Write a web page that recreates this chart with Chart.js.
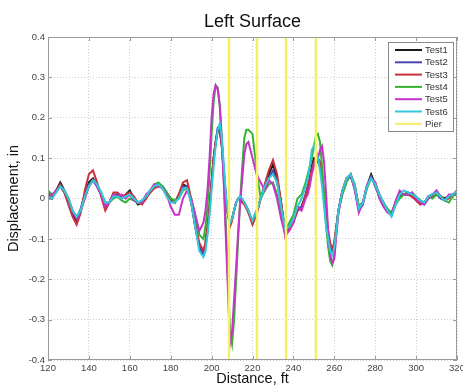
<!DOCTYPE html>
<html>
<head>
<meta charset="utf-8">
<title>Left Surface</title>
<script src="https://cdn.jsdelivr.net/npm/chart.js@4/dist/chart.umd.min.js"></script>
<style>
  html, body { margin: 0; padding: 0; background: #fff; }
  canvas { display: block; }
</style>
</head>
<body>
<canvas id="chart" width="463" height="389"></canvas>
<script>
// distance along the bridge, ft (finer spacing where the curves move fast)
const distance = [
  120,122,124,126,128,130,132,134,136,138,140,142,144,146,148,150,152,154,156,158,
  160,162,164,166,168,170,172,174,176,178,180,182,184,186,188,190,192,194,
  196,197,198,199,200,201,202,203,204,205,206,207,208,209,210,211,212,213,214,215,216,217,218,
  220,222,224,226,228,230,232,234,236,238,240,242,244,246,
  247,248,249,250,251,252,253,254,255,256,257,258,259,260,261,262,
  264,266,268,270,272,274,276,278,280,282,284,286,288,290,292,294,296,298,300,302,304,306,308,310,312,314,316,318,320
];

// displacement, in
const test1 = [
  0.01,0.0,0.02,0.04,0.02,-0.01,-0.04,-0.055,-0.03,0.01,0.04,0.05,0.03,0.01,-0.02,-0.01,0.01,0.01,0.0,0.01,
  0.02,0.0,-0.015,-0.01,0.005,0.015,0.03,0.035,0.03,0.015,0.0,-0.01,0.01,0.035,0.03,-0.01,-0.07,-0.12,
  -0.135,-0.11,-0.07,-0.02,0.04,0.1,0.14,0.17,0.17,0.13,0.06,0.0,-0.04,-0.065,-0.05,-0.03,-0.01,0.0,0.0,-0.005,-0.01,-0.02,-0.03,
  -0.06,-0.035,0.0,0.03,0.06,0.085,0.05,-0.01,-0.08,-0.07,-0.055,-0.03,-0.02,0.01,
  0.03,0.05,0.08,0.1,0.1,0.09,0.08,0.05,0.0,-0.05,-0.09,-0.12,-0.13,-0.11,-0.07,-0.03,
  0.02,0.05,0.055,0.03,-0.02,-0.01,0.03,0.06,0.035,0.01,-0.01,-0.03,-0.04,-0.01,0.01,0.01,0.015,0.01,0.0,-0.005,-0.01,0.005,0.01,0.015,0.005,0.0,0.005,0.01,0.015
];
const test2 = [
  0.0,0.005,0.02,0.03,0.015,-0.01,-0.035,-0.05,-0.025,0.01,0.035,0.045,0.03,0.01,-0.02,-0.01,0.005,0.01,0.005,0.005,
  0.015,0.0,-0.01,-0.01,0.0,0.02,0.03,0.035,0.025,0.01,-0.005,-0.01,0.005,0.03,0.03,-0.005,-0.065,-0.12,
  -0.14,-0.12,-0.08,-0.025,0.04,0.1,0.14,0.175,0.18,0.14,0.07,0.0,-0.04,-0.06,-0.05,-0.03,-0.01,0.0,0.005,-0.005,-0.01,-0.02,-0.035,
  -0.055,-0.03,0.0,0.025,0.05,0.07,0.04,-0.015,-0.085,-0.07,-0.05,-0.025,-0.02,0.005,
  0.02,0.04,0.07,0.09,0.1,0.1,0.09,0.06,0.01,-0.05,-0.09,-0.12,-0.135,-0.12,-0.08,-0.03,
  0.02,0.045,0.055,0.025,-0.03,-0.015,0.03,0.055,0.03,0.005,-0.015,-0.03,-0.04,-0.015,0.005,0.01,0.01,0.005,0.0,-0.01,-0.015,0.0,0.01,0.01,0.0,-0.005,0.005,0.01,0.01
];
const test3 = [
  0.015,0.005,0.02,0.035,0.015,-0.015,-0.045,-0.065,-0.035,0.02,0.06,0.07,0.04,0.005,-0.03,-0.01,0.015,0.015,0.005,0.01,
  0.015,0.005,-0.01,-0.015,0.0,0.015,0.025,0.03,0.03,0.015,-0.005,-0.01,0.01,0.04,0.045,0.0,-0.06,-0.11,
  -0.13,-0.11,-0.07,-0.02,0.04,0.1,0.14,0.165,0.165,0.13,0.06,0.0,-0.04,-0.07,-0.055,-0.03,-0.01,0.0,0.0,-0.01,-0.015,-0.025,-0.035,
  -0.065,-0.04,0.0,0.035,0.07,0.095,0.06,-0.01,-0.095,-0.075,-0.06,-0.03,-0.025,0.01,
  0.03,0.05,0.07,0.09,0.1,0.1,0.09,0.06,0.01,-0.04,-0.08,-0.11,-0.125,-0.11,-0.07,-0.03,
  0.02,0.05,0.06,0.03,-0.02,-0.01,0.03,0.05,0.04,0.01,-0.015,-0.03,-0.035,-0.01,0.015,0.01,0.01,0.005,-0.005,-0.015,-0.01,0.005,0.005,0.015,0.005,-0.005,0.0,0.01,0.01
];
const test4 = [
  0.02,0.01,0.015,0.03,0.02,0.0,-0.03,-0.045,-0.03,0.0,0.03,0.045,0.035,0.015,-0.01,-0.01,0.0,0.005,-0.005,-0.01,
  0.0,-0.005,-0.01,-0.005,0.005,0.02,0.035,0.04,0.03,0.015,0.0,-0.005,0.0,0.02,0.025,0.0,-0.04,-0.09,
  -0.1,-0.07,-0.02,0.06,0.16,0.24,0.28,0.275,0.23,0.15,0.05,-0.07,-0.2,-0.33,-0.36,-0.3,-0.2,-0.1,0.0,0.08,0.15,0.17,0.17,
  0.16,0.07,0.0,0.02,0.035,0.04,0.01,-0.04,-0.08,-0.06,-0.04,0.0,0.01,0.04,
  0.06,0.08,0.1,0.13,0.155,0.16,0.14,0.08,0.01,-0.07,-0.12,-0.155,-0.165,-0.14,-0.08,-0.03,
  0.01,0.04,0.06,0.035,-0.02,-0.01,0.025,0.05,0.035,0.01,-0.01,-0.025,-0.035,-0.015,0.0,0.01,0.01,0.015,0.005,-0.005,-0.01,0.005,0.0,0.01,0.005,-0.005,-0.01,0.005,0.02
];
const test5 = [
  0.0,0.01,0.02,0.03,0.02,0.0,-0.03,-0.05,-0.03,0.0,0.03,0.045,0.03,0.01,-0.02,-0.01,0.01,0.005,0.01,0.0,
  0.01,-0.005,-0.01,-0.01,0.01,0.02,0.035,0.03,0.025,0.01,-0.02,-0.04,-0.04,0.0,0.02,0.0,-0.04,-0.08,
  -0.06,-0.03,0.02,0.1,0.2,0.26,0.28,0.27,0.23,0.14,0.03,-0.1,-0.23,-0.36,-0.33,-0.25,-0.17,-0.08,-0.01,0.05,0.11,0.135,0.14,
  0.1,0.06,0.04,0.02,0.045,0.035,0.0,-0.05,-0.09,-0.08,-0.06,-0.02,-0.03,0.0,
  0.01,0.03,0.06,0.08,0.09,0.1,0.12,0.13,0.09,0.01,-0.08,-0.14,-0.16,-0.15,-0.09,-0.04,
  0.02,0.05,0.06,0.02,-0.035,-0.01,0.035,0.05,0.04,0.0,-0.02,-0.035,-0.04,-0.005,0.02,0.01,0.01,0.015,0.0,-0.01,-0.015,0.0,0.01,0.02,0.005,-0.005,0.01,0.01,0.02
];
const test6 = [
  0.005,0.0,0.015,0.03,0.02,0.0,-0.03,-0.045,-0.03,0.005,0.03,0.045,0.035,0.015,-0.01,-0.01,0.005,0.005,0.0,0.005,
  0.01,0.0,-0.01,-0.005,0.005,0.02,0.03,0.035,0.025,0.005,-0.01,-0.01,0.0,0.025,0.025,-0.01,-0.07,-0.13,
  -0.145,-0.13,-0.09,-0.04,0.02,0.08,0.13,0.17,0.185,0.15,0.08,0.01,-0.035,-0.06,-0.05,-0.03,-0.01,0.0,0.005,0.0,-0.01,-0.02,-0.03,
  -0.055,-0.03,0.0,0.03,0.05,0.06,0.04,-0.02,-0.075,-0.07,-0.05,-0.02,0.0,0.03,
  0.05,0.08,0.12,0.13,0.12,0.1,0.07,0.03,-0.02,-0.07,-0.1,-0.13,-0.14,-0.12,-0.08,-0.03,
  0.02,0.05,0.06,0.03,-0.025,-0.01,0.03,0.05,0.035,0.01,-0.01,-0.03,-0.045,-0.015,0.01,0.02,0.015,0.01,0.005,-0.005,-0.01,0.005,0.01,0.015,0.005,-0.005,0.005,0.01,0.02
];

// pier locations, ft
const pierDistance = [208.5, 222.2, 236.4, 251];

const testNames = ["Test1", "Test2", "Test3", "Test4", "Test5", "Test6"];
const testValues = [test1, test2, test3, test4, test5, test6];
const testColors = ["#1a1a1a", "#4646b4", "#c8323c", "#32b432", "#c832c8", "#32c8dc"];
const pierColor = "#f3ef66";

const FONT = "'Liberation Sans', Arial, sans-serif";

const datasets = testNames.map((name, i) => ({
  label: name,
  data: distance.map((d, j) => ({ x: d, y: testValues[i][j] })),
  borderColor: testColors[i],
  borderWidth: 2,
  pointRadius: 0,
  tension: 0,
  order: 6 - i,
}));

// vertical pier lines, broken by null points
const pierData = [];
pierDistance.forEach((p) => {
  pierData.push({ x: p, y: -0.4 }, { x: p, y: 0.4 }, { x: p, y: null });
});
datasets.push({
  label: "Pier",
  data: pierData,
  borderColor: pierColor,
  borderWidth: 2.5,
  pointRadius: 0,
  spanGaps: false,
  order: 0,
});

const decorations = {
  id: "decorations",
  afterDraw(chart) {
    const { ctx, chartArea: a, scales } = chart;
    ctx.save();

    // box and inward tick marks
    ctx.strokeStyle = "#9a9a9a";
    ctx.lineWidth = 1;
    ctx.strokeRect(a.left + 0.5, a.top + 0.5, a.right - a.left - 1, a.bottom - a.top - 1);
    ctx.beginPath();
    scales.x.ticks.forEach((t) => {
      const px = Math.round(scales.x.getPixelForValue(t.value)) + 0.5;
      ctx.moveTo(px, a.bottom); ctx.lineTo(px, a.bottom - 4);
      ctx.moveTo(px, a.top); ctx.lineTo(px, a.top + 4);
    });
    scales.y.ticks.forEach((t) => {
      const py = Math.round(scales.y.getPixelForValue(t.value)) + 0.5;
      ctx.moveTo(a.left, py); ctx.lineTo(a.left + 4, py);
      ctx.moveTo(a.right, py); ctx.lineTo(a.right - 4, py);
    });
    ctx.stroke();

    // titles
    const cx = (a.left + a.right) / 2;
    ctx.fillStyle = "#111";
    ctx.textAlign = "center";
    ctx.textBaseline = "middle";
    ctx.font = "18px " + FONT;
    ctx.fillText("Left Surface", cx, 22);
    ctx.font = "14.5px " + FONT;
    ctx.fillText("Distance, ft", cx, 379);
    ctx.save();
    ctx.translate(14, (a.top + a.bottom) / 2);
    ctx.rotate(-Math.PI / 2);
    ctx.fillText("Displacement, in", 0, 0);
    ctx.restore();

    // legend box in the upper right corner
    const lx = 388, ly = 42, lw = 65, lh = 89;
    ctx.fillStyle = "#fff";
    ctx.fillRect(lx, ly, lw, lh);
    ctx.strokeStyle = "#8a8a8a";
    ctx.strokeRect(lx + 0.5, ly + 0.5, lw, lh);
    ctx.font = "9.5px " + FONT;
    ctx.textAlign = "left";
    chart.data.datasets.forEach((ds, i) => {
      const y = ly + 8 + i * 12.3;
      ctx.strokeStyle = ds.borderColor;
      ctx.lineWidth = 2;
      ctx.beginPath();
      ctx.moveTo(lx + 7, y);
      ctx.lineTo(lx + 34, y);
      ctx.stroke();
      ctx.fillStyle = "#333";
      ctx.fillText(ds.label, lx + 37, y + 0.5);
    });
    ctx.restore();
  },
};

const gridOpts = { color: "#cdcdcd", lineWidth: 1, drawTicks: false };

new Chart(document.getElementById("chart"), {
  type: "line",
  data: { datasets },
  options: {
    responsive: false,
    animation: false,
    layout: { padding: { left: 14, right: 6, top: 37, bottom: 0 } },
    plugins: {
      legend: { display: false },
      title: { display: false },
      tooltip: { enabled: false },
    },
    scales: {
      x: {
        type: "linear",
        min: 120,
        max: 320,
        grid: gridOpts,
        border: { display: false, dash: [1, 2] },
        ticks: { stepSize: 20, padding: 3, color: "#444", font: { family: FONT, size: 9.5 }, maxRotation: 0 },
        afterFit(scale) {
          scale.height = 29;
          scale.paddingLeft = 0;
          scale.paddingRight = 0;
        },
      },
      y: {
        min: -0.4,
        max: 0.4,
        grid: gridOpts,
        border: { display: false, dash: [1, 2] },
        ticks: { stepSize: 0.1, padding: 3, color: "#444", font: { family: FONT, size: 9.5 } },
        afterFit(scale) {
          scale.width = 34;
          scale.paddingTop = 0;
          scale.paddingBottom = 0;
        },
      },
    },
  },
  plugins: [decorations],
});
</script>
</body>
</html>
